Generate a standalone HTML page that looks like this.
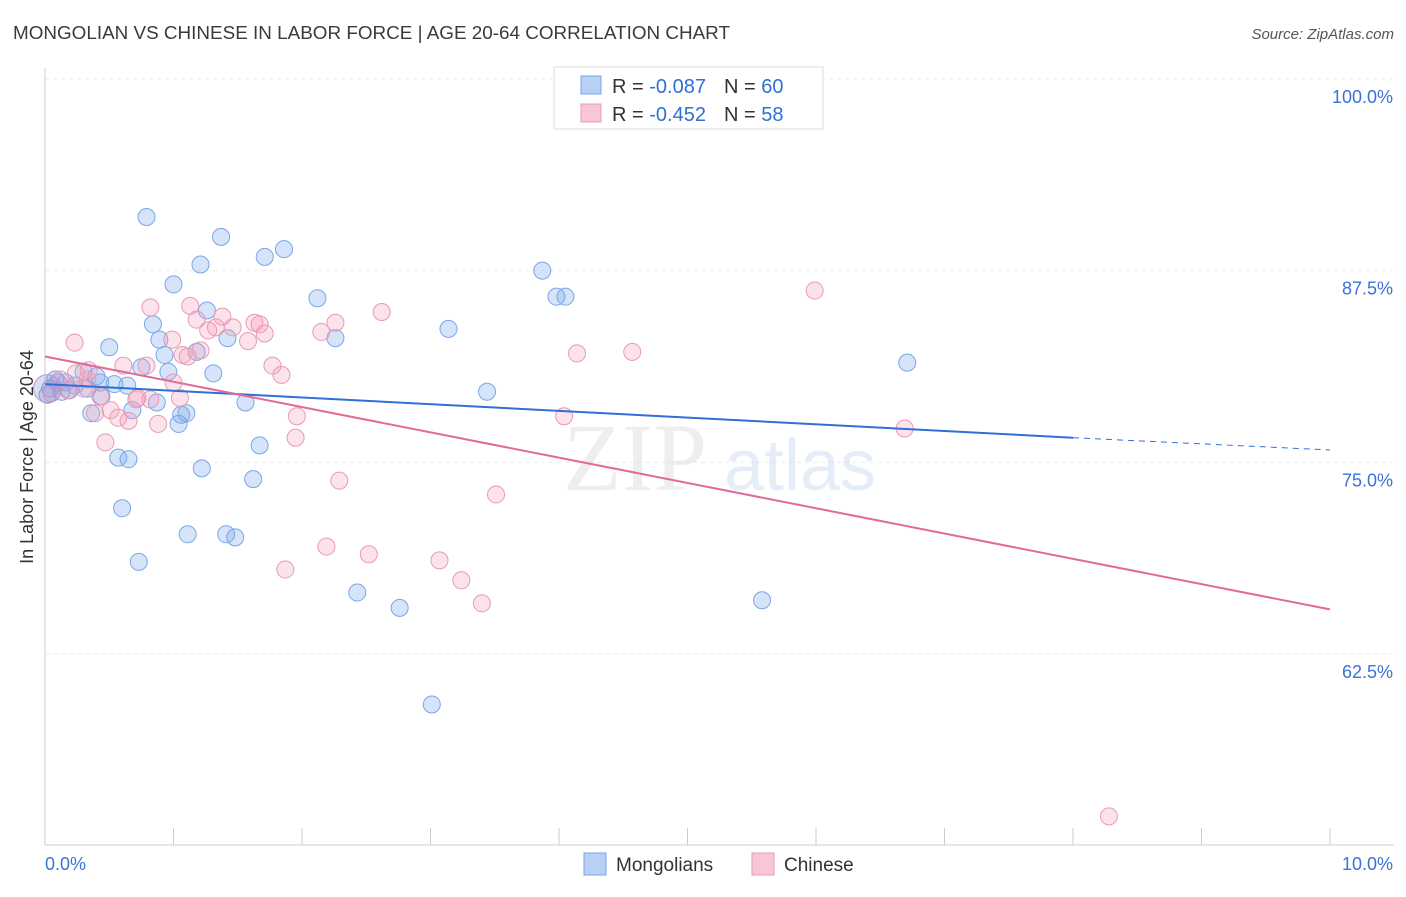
<!DOCTYPE html>
<html><head><meta charset="utf-8"><style>
body{margin:0;background:#fff;font-family:"Liberation Sans",sans-serif;}
</style></head><body>
<svg id="chart" width="1406" height="892" xmlns="http://www.w3.org/2000/svg" font-family="Liberation Sans, sans-serif">
<text x="13" y="39" font-size="18" fill="#3a3a3a" textLength="717" lengthAdjust="spacingAndGlyphs">MONGOLIAN VS CHINESE IN LABOR FORCE | AGE 20-64 CORRELATION CHART</text>
<text x="1394" y="39" font-size="15" fill="#555" font-style="italic" text-anchor="end">Source: ZipAtlas.com</text>
<g id="grid"></g>
<g opacity="0.3">
<text x="635" y="490" font-size="96" fill="#c8c8c8" font-family="Liberation Serif, serif" text-anchor="middle">ZIP</text>
<text x="800" y="490" font-size="72" fill="#a8c4ea" text-anchor="middle">atlas</text>
</g>
<g id="points"></g>
<g id="lines"></g>
<text transform="translate(33,457) rotate(-90)" font-size="18" fill="#333" text-anchor="middle">In Labor Force | Age 20-64</text>
<g>
<rect x="554" y="67" width="269" height="62" fill="#fff" stroke="#ddd"/>
<rect x="581" y="76" width="20" height="18" fill="#b8d0f4" stroke="#7aa6e8"/>
<rect x="581" y="104" width="20" height="18" fill="#f8c6d6" stroke="#e89ab5"/>
<text x="612" y="93" font-size="20" fill="#333">R = <tspan fill="#2f6fd6">-0.087</tspan><tspan dx="18">N = </tspan><tspan fill="#2f6fd6">60</tspan></text>
<text x="612" y="121" font-size="20" fill="#333">R = <tspan fill="#2f6fd6">-0.452</tspan><tspan dx="18">N = </tspan><tspan fill="#2f6fd6">58</tspan></text>
</g>
<g>
<rect x="584" y="853" width="22" height="22" fill="#b8d0f4" stroke="#7aa6e8"/>
<text x="616" y="871" font-size="19" fill="#333">Mongolians</text>
<rect x="752" y="853" width="22" height="22" fill="#f8c6d6" stroke="#e89ab5"/>
<text x="784" y="871" font-size="19" fill="#333">Chinese</text>
</g>
</svg>
<script>
const yTicks=[100,87.5,75,62.5];
const xTickLabels=["0.0%","10.0%"];
const mongX=[0.79,1.37,1.86,1.71,1.21,1.00,3.87,3.98,4.05,2.12,1.26,0.84,3.14,1.42,2.26,0.89,0.50,0.93,1.18,0.75,0.96,1.31,0.40,0.30,6.71,3.44,0.54,0.64,0.33,0.19,0.10,0.04,0.16,0.44,0.87,1.56,0.68,0.36,1.10,1.06,1.04,1.67,0.57,0.65,1.22,1.62,0.60,1.11,1.41,1.48,0.73,2.43,2.76,5.58,3.01,0.08,0.23,0.13,0.02,0.43];
const mongY=[91.0,89.7,88.9,88.4,87.9,86.6,87.5,85.8,85.8,85.7,84.9,84.0,83.7,83.1,83.1,83.0,82.5,82.0,82.2,81.2,80.9,80.8,80.6,80.9,81.5,79.6,80.1,80.0,79.8,79.7,80.2,79.8,80.2,79.3,78.9,78.9,78.4,78.2,78.2,78.1,77.5,76.1,75.3,75.2,74.6,73.9,72.0,70.3,70.3,70.1,68.5,66.5,65.5,66.0,59.2,80.4,80.0,79.6,79.4,80.2];
const chinX=[0.82,1.13,1.38,1.18,1.33,1.27,1.46,1.63,1.67,1.71,1.58,2.26,2.62,2.15,5.99,0.23,0.99,1.21,1.07,1.11,0.79,0.61,1.77,1.84,1.00,0.34,0.24,4.14,4.57,0.30,0.43,0.71,0.51,0.39,0.57,0.65,0.88,1.96,1.95,0.47,4.04,6.69,2.29,3.51,2.19,2.52,3.07,3.24,1.87,3.40,8.28,0.12,0.18,0.05,0.82,1.05,0.72,0.33];
const chinY=[85.1,85.2,84.5,84.3,83.8,83.6,83.8,84.1,84.0,83.4,82.9,84.1,84.8,83.5,86.2,82.8,83.0,82.3,82.0,81.9,81.3,81.3,81.3,80.7,80.2,81.0,80.8,82.1,82.2,79.8,79.3,79.1,78.4,78.2,77.9,77.7,77.5,78.0,76.6,76.3,78.0,77.2,73.8,72.9,69.5,69.0,68.6,67.3,68.0,65.8,51.9,80.4,79.7,79.5,79.1,79.2,79.2,80.4];
const mongTrendX=[0,8,10];
const mongTrendY=[80.1,76.6,75.8];
const chinTrendX=[0,10];
const chinTrendY=[81.9,65.4];
const NS="http://www.w3.org/2000/svg";
const sx=v=>45+v*128.5;
const sy=v=>79+(100-v)*15.33;
function mk(t,a,p){const e=document.createElementNS(NS,t);for(const k in a)e.setAttribute(k,a[k]);p.appendChild(e);return e;}
const grid=document.getElementById('grid');
yTicks.forEach(t=>{
 const l=mk('line',{x1:45,x2:1394,y1:sy(t),y2:sy(t),stroke:'#ebebeb','stroke-dasharray':'4,4'},grid);
 
 
 const tx=mk('text',{x:1393,y:sy(t)+24,'font-size':18,fill:'#3b72d6','text-anchor':'end'},grid);
 tx.textContent=t.toFixed(1)+'%';
 
 
});
const ax=mk('line',{x1:45,x2:45,y1:68,y2:845,stroke:'#ccc'},grid);


const bx=mk('line',{x1:45,x2:1394,y1:845,y2:845,stroke:'#ccc'},grid);


for(let i=0;i<=10;i++){
 const t=mk('line',{x1:sx(i),x2:sx(i),y1:828,y2:845,stroke:'#ccc'},grid);
 
 
}
[[0,'start',45],[1,'end',1393]].forEach(([i,anc,x])=>{
 const t=mk('text',{x:x,y:870,'font-size':18,fill:'#3b72d6','text-anchor':anc},grid);
 t.textContent=xTickLabels[i];
 
 
});
const pts=document.getElementById('points');
mongX.forEach((x,i)=>{
 const c=mk('circle',{cx:sx(x),cy:sy(mongY[i]),r:8.5,fill:'rgba(120,165,235,0.3)',stroke:'#7aa6e8','stroke-width':1},pts);
 
 
});
chinX.forEach((x,i)=>{
 const c=mk('circle',{cx:sx(x),cy:sy(chinY[i]),r:8.5,fill:'rgba(245,160,190,0.3)',stroke:'#e89ab5','stroke-width':1},pts);
 
 
});
const big=mk('circle',{cx:sx(0.02),cy:sy(79.8),r:14,fill:'rgba(150,140,210,0.3)',stroke:'#a99ad8'},pts);


const ln=document.getElementById('lines');
const b1=mk('line',{x1:sx(mongTrendX[0]),y1:sy(mongTrendY[0]),x2:sx(mongTrendX[1]),y2:sy(mongTrendY[1]),stroke:'#2f6fd6','stroke-width':2},ln);


const b2=mk('line',{x1:sx(mongTrendX[1]),y1:sy(mongTrendY[1]),x2:sx(mongTrendX[2]),y2:sy(mongTrendY[2]),stroke:'#2f6fd6','stroke-width':1,'stroke-dasharray':'6,5'},ln);


const p1=mk('line',{x1:sx(chinTrendX[0]),y1:sy(chinTrendY[0]),x2:sx(chinTrendX[1]),y2:sy(chinTrendY[1]),stroke:'#e36a98','stroke-width':2},ln);


</script>
</body></html>
